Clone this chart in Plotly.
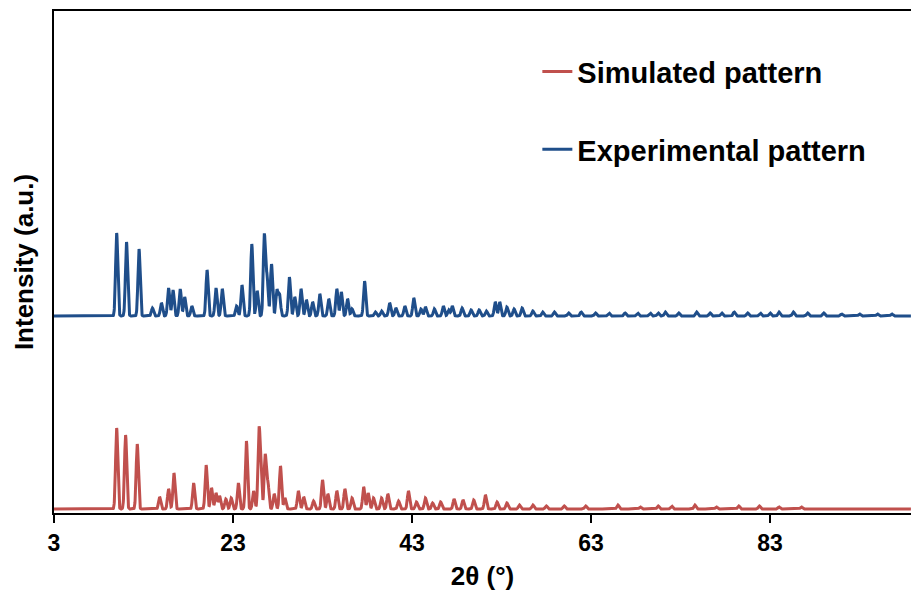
import numpy as np
import plotly.graph_objects as go

# ---- Data (peak positions in 2θ, relative intensities) ----
exp_pos = [10.0, 11.1, 12.5, 14.0, 15.0, 15.8, 16.3, 17.1, 17.6, 18.4, 20.1, 21.1, 21.8,
           23.4, 24.0, 25.1, 25.7, 26.5, 26.8, 27.3, 27.9, 28.2, 29.3, 29.9, 30.6, 31.2,
           31.9, 32.7, 33.7, 34.6, 35.1, 35.8, 36.3, 37.7, 38.9, 39.6, 40.5, 41.2, 42.2,
           43.2, 44.0, 44.5, 45.5, 46.5, 47.1, 47.5, 48.6, 49.6, 50.5, 51.3, 52.3, 52.8,
           53.6, 54.4, 55.3, 56.5, 57.6, 58.9, 60.5, 61.9, 63.5, 65.0, 66.8, 68.2, 69.6,
           70.5, 71.3, 72.8, 74.8, 76.3, 77.6, 79.0, 80.5, 81.9, 83.0, 84.0, 85.6, 87.2,
           89.0, 91.0, 93.0, 95.0, 96.6]
exp_int = [83, 74, 67, 8, 13, 28, 26, 27, 19, 10, 46, 28, 27,
           10, 31, 72, 25, 81, 39, 52, 26, 21, 39, 19, 27, 16,
           14, 22, 17, 27, 24, 17, 7, 35, 4, 5, 13, 8, 10,
           18, 7, 9, 7, 10, 6, 10, 8, 6, 6, 5, 14, 14,
           9, 7, 8, 5, 4, 4, 3, 4, 3, 3, 3, 3, 3,
           3, 4, 3, 4, 3, 3, 4, 3, 3, 3, 4, 4, 3,
           3, 2, 2, 2, 2]

sim_pos = [10.0, 11.0, 12.3, 14.8, 15.8, 16.4, 18.6, 20.0, 20.6, 21.1, 21.5, 22.2, 22.8,
           23.6, 24.5, 25.3, 25.9, 26.1, 26.6, 26.9, 27.6, 28.3, 28.8, 30.3, 30.9, 32.0,
           33.0, 33.6, 34.6, 35.5, 36.3, 37.6, 38.1, 38.7, 39.6, 40.3, 41.5, 42.6, 43.5,
           44.5, 45.3, 46.2, 47.7, 48.7, 49.9, 51.2, 52.5, 53.6, 55.0, 56.5, 58.0, 60.0,
           62.4, 66.0, 68.5, 70.5, 72.0, 74.6, 77.0, 79.5, 81.8, 84.0, 86.5]
sim_int = [81, 74, 65, 12, 20, 36, 26, 44, 21, 16, 13, 10, 11,
           26, 68, 18, 74, 31, 54, 26, 15, 43, 11, 18, 12, 8,
           29, 15, 18, 20, 11, 22, 16, 11, 11, 15, 8, 18, 7,
           11, 6, 7, 10, 9, 9, 14, 7, 6, 4, 4, 3, 3,
           3, 4, 2, 3, 3, 4, 2, 3, 3, 2, 2]

exp_offset = 197
sim_offset = 4

two_theta = np.arange(3.0, 98.76, 0.02)


def profile(pos, inten, offset, fwhm=0.28):
    y = np.full_like(two_theta, float(offset))
    s = fwhm / 2.3548
    for p, h in zip(pos, inten):
        y += h * np.exp(-0.5 * ((two_theta - p) / s) ** 2)
    return y


fig = go.Figure()
fig.add_trace(go.Scatter(x=two_theta, y=profile(sim_pos, sim_int, sim_offset),
                         mode="lines", name="Simulated pattern",
                         line=dict(color="#c0504d", width=3), legendgroup="a"))
fig.add_trace(go.Scatter(x=two_theta, y=profile(exp_pos, exp_int, exp_offset),
                         mode="lines", name="Experimental pattern",
                         line=dict(color="#1f4e8a", width=3), legendgroup="b"))

fig.update_layout(
    width=911, height=601,
    margin=dict(l=54, r=0, t=11, b=88),
    plot_bgcolor="white", paper_bgcolor="white",
    showlegend=True,
    legend=dict(x=0.564, y=0.93, xanchor="left", yanchor="top",
                font=dict(family="Liberation Sans, Arial", size=29, color="black", weight="bold"),
                tracegroupgap=37, bgcolor="rgba(0,0,0,0)", traceorder="grouped",
                itemwidth=30),
    xaxis=dict(range=[3, 98.75], tickvals=[3, 23, 43, 63, 83],
               ticks="outside", ticklen=8, tickwidth=2, tickcolor="black",
               showline=True, linecolor="black", linewidth=2, mirror=True,
               showgrid=False, zeroline=False,
               tickfont=dict(family="Liberation Sans, Arial",
                             size=23, color="black", weight="bold"),
               title=dict(text="2θ (°)", standoff=12,
                          font=dict(family="Liberation Sans, Arial",
                                    size=26, color="black", weight="bold"))),
    yaxis=dict(range=[0, 502], showticklabels=False, ticks="",
               showline=True, linecolor="black", linewidth=2,
               showgrid=False, zeroline=False,
               title=dict(text="Intensity (a.u.)", standoff=11,
                          font=dict(family="Liberation Sans, Arial", size=26,
                                    color="black", weight="bold"))),
)

fig.write_html("out.html")
